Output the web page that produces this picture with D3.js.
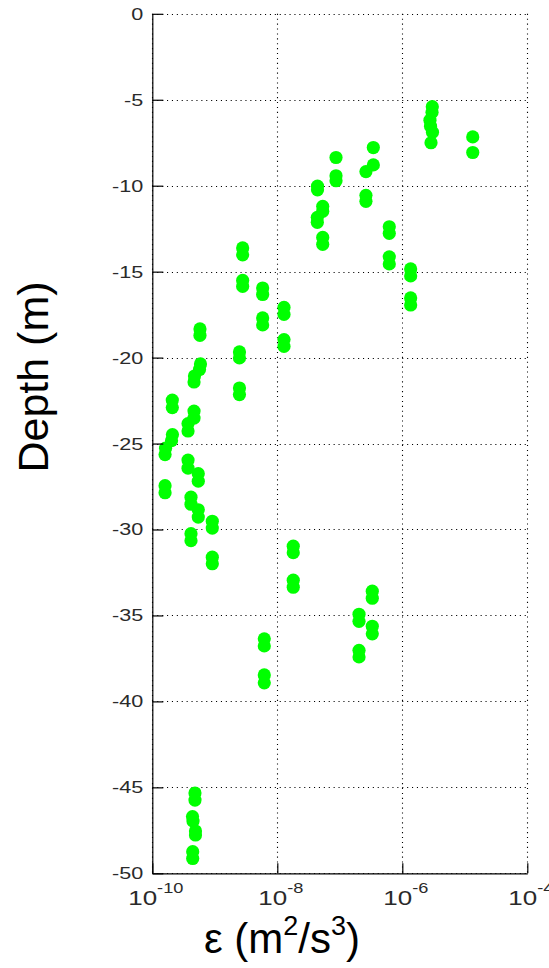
<!DOCTYPE html>
<html>
<head>
<meta charset="utf-8">
<script src="https://cdn.jsdelivr.net/npm/d3@7"></script>
<style>
  html, body { margin: 0; padding: 0; background: #fff; }
  svg { display: block; }
</style>
</head>
<body>
<svg id="chart" width="549" height="968"></svg>
<script>
// Dissipation rate ε (m²/s³) against depth (m), one marker per estimate.
const epsilon = [
  3.02e-6, 2.99e-6, 2.77e-6, 2.83e-6, 3.04e-6, 2.88e-6,
  1.34e-5, 1.34e-5,
  3.44e-7, 3.44e-7, 2.62e-7,
  8.70e-8, 8.70e-8, 8.70e-8,
  4.40e-8, 4.40e-8,
  2.62e-7, 2.62e-7,
  5.33e-8, 5.33e-8, 4.37e-8, 4.37e-8,
  5.33e-8, 5.33e-8,
  6.19e-7, 6.19e-7, 6.19e-7, 6.19e-7,
  1.36e-6, 1.36e-6, 1.36e-6, 1.36e-6,
  2.79e-9, 2.79e-9, 2.79e-9, 2.79e-9,
  5.83e-9, 5.83e-9, 5.83e-9, 5.83e-9,
  1.28e-8, 1.28e-8, 1.28e-8, 1.28e-8,
  5.79e-10, 5.79e-10,
  2.48e-9, 2.48e-9, 2.48e-9, 2.48e-9,
  5.90e-10, 5.69e-10, 4.73e-10, 4.65e-10,
  2.09e-10, 2.09e-10,
  4.65e-10, 4.65e-10,
  3.73e-10, 3.73e-10,
  2.10e-10, 2.03e-10, 1.63e-10, 1.60e-10,
  3.73e-10, 3.73e-10,
  5.44e-10, 5.44e-10,
  1.60e-10, 1.60e-10,
  4.16e-10, 4.16e-10,
  5.44e-10, 5.44e-10,
  9.12e-10, 9.12e-10,
  4.16e-10, 4.16e-10,
  9.12e-10, 9.12e-10,
  1.80e-8, 1.80e-8, 1.80e-8, 1.80e-8,
  3.31e-7, 3.31e-7,
  2.03e-7, 2.03e-7,
  3.31e-7, 3.31e-7,
  2.03e-7, 2.03e-7,
  6.19e-9, 6.19e-9, 6.19e-9, 6.19e-9,
  4.82e-10, 4.82e-10,
  4.40e-10, 4.48e-10, 4.91e-10, 4.91e-10,
  4.43e-10, 4.43e-10
];
const depth = [
  -5.40, -5.73, -6.19, -6.54, -6.89, -7.50,
  -7.16, -8.07,
  -7.78, -8.79, -9.18,
  -8.36, -9.42, -9.71,
  -10.03, -10.24,
  -10.56, -10.91,
  -11.20, -11.49, -11.84, -12.13,
  -13.01, -13.41,
  -12.39, -12.77, -14.14, -14.55,
  -14.84, -15.25, -16.53, -16.94,
  -13.62, -14.02, -15.51, -15.86,
  -15.95, -16.33, -17.69, -18.10,
  -17.08, -17.49, -18.95, -19.35,
  -18.33, -18.71,
  -19.67, -20.02, -21.77, -22.15,
  -20.37, -20.69, -21.07, -21.42,
  -22.47, -22.91,
  -23.11, -23.52,
  -23.84, -24.27,
  -24.48, -24.83, -25.27, -25.64,
  -25.96, -26.43,
  -26.75, -27.19,
  -27.45, -27.86,
  -28.12, -28.53,
  -28.85, -29.28,
  -29.52, -29.92,
  -30.24, -30.65,
  -31.61, -31.99,
  -30.97, -31.35, -32.95, -33.36,
  -33.59, -34.00,
  -34.93, -35.34,
  -35.63, -36.07,
  -37.03, -37.41,
  -36.36, -36.77, -38.46, -38.92,
  -45.33, -45.74,
  -46.70, -46.96, -47.54, -47.77,
  -48.74, -49.14
];
const xTickValues = [1e-10, 1e-8, 1e-6, 1e-4];
const xTickExponents = ["-10", "-8", "-6", "-4"];
const yTickValues = [0, -5, -10, -15, -20, -25, -30, -35, -40, -45, -50];
const yTickLabels = ["0", "-5", "-10", "-15", "-20", "-25", "-30", "-35", "-40", "-45", "-50"];

const points = epsilon.map((e, i) => ({ e, d: depth[i] }));

const svg = d3.select("#chart");
const plotLeft = 152.3, plotRight = 527.3, plotTop = 13.8, plotBottom = 873.3;

const x = d3.scaleLog().domain([1e-10, 1e-4]).range([plotLeft, plotRight]);
const y = d3.scaleLinear().domain([-50, 0]).range([plotBottom, plotTop]);

// dotted grid
const grid = svg.append("g").attr("stroke", "#000").attr("stroke-width", 1.1)
  .attr("stroke-dasharray", "1.1,3.8");
grid.selectAll("line.gy").data(yTickValues).join("line")
  .attr("x1", plotLeft).attr("x2", plotRight)
  .attr("y1", d => Math.round(y(d)) + 0.5).attr("y2", d => Math.round(y(d)) + 0.5);
grid.selectAll("line.gx").data(xTickValues).join("line")
  .attr("y1", plotTop).attr("y2", plotBottom)
  .attr("x1", d => Math.round(x(d)) + 0.5).attr("x2", d => Math.round(x(d)) + 0.5);

// markers
svg.append("g").selectAll("circle").data(points).join("circle")
  .attr("cx", p => x(p.e))
  .attr("cy", p => y(p.d))
  .attr("r", 6.6)
  .attr("fill", "#00ff00");

// axes
const yAxis = svg.append("g").attr("transform", `translate(${plotLeft},0)`)
  .call(d3.axisLeft(y).tickValues(yTickValues).tickSizeInner(-11).tickSizeOuter(0)
    .tickFormat((d, i) => yTickLabels[i]));
const xAxis = svg.append("g").attr("transform", `translate(0,${plotBottom})`)
  .call(d3.axisBottom(x).tickValues(xTickValues).tickSizeInner(-10).tickSizeOuter(0)
    .tickFormat(() => ""));

[yAxis, xAxis].forEach(a => {
  a.select(".domain").attr("stroke", "#000").attr("stroke-width", 1.2);
  a.selectAll(".tick line").attr("stroke", "#000").attr("stroke-width", 1.2);
});

yAxis.selectAll(".tick text")
  .attr("x", null).attr("dy", null)
  .attr("transform", "translate(-9,0) scale(1.35,1)")
  .attr("dominant-baseline", "central")
  .attr("text-anchor", "end")
  .attr("font-family", "Liberation Sans, Arial, sans-serif")
  .attr("font-size", 16)
  .attr("fill", "#2a2a2a");

xAxis.selectAll(".tick text").remove();
xAxis.selectAll(".tick").each(function (d, i) {
  const t = d3.select(this).append("text")
    .attr("transform", "translate(3,31.5) scale(1.3,1)")
    .attr("text-anchor", "middle")
    .attr("font-family", "Liberation Sans, Arial, sans-serif")
    .attr("font-size", 20)
    .attr("fill", "#2a2a2a");
  t.append("tspan").text("10");
  t.append("tspan").attr("dy", -12).attr("font-size", 14).text(xTickExponents[i]);
});

// axis titles
svg.append("text")
  .attr("transform", "translate(48,377) rotate(-90)")
  .attr("text-anchor", "middle")
  .attr("font-family", "Liberation Sans, Arial, sans-serif")
  .attr("font-size", 43)
  .attr("fill", "#000")
  .text("Depth (m)");

const xl = svg.append("text")
  .attr("x", 282).attr("y", 953)
  .attr("text-anchor", "middle")
  .attr("font-family", "Liberation Sans, Arial, sans-serif")
  .attr("font-size", 42)
  .attr("fill", "#000");
xl.append("tspan").text("ε (m");
xl.append("tspan").attr("dy", -18).attr("font-size", 27).text("2");
xl.append("tspan").attr("dy", 18).text("/s");
xl.append("tspan").attr("dy", -18).attr("font-size", 27).text("3");
xl.append("tspan").attr("dy", 18).text(")");
</script>
</body>
</html>
